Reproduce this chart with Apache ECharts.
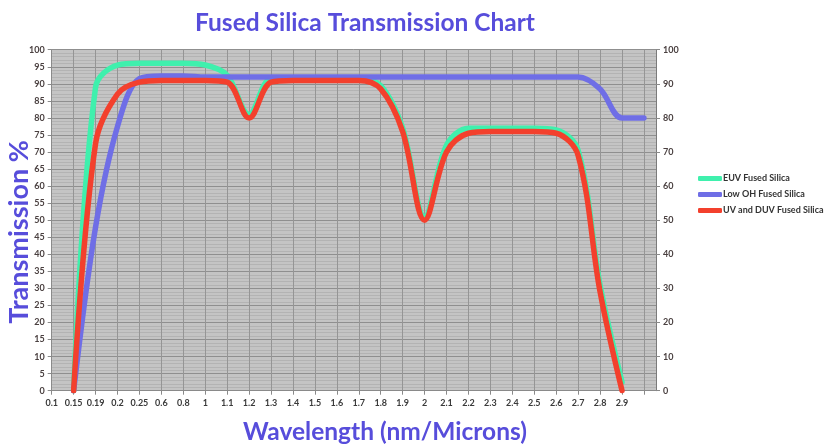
<!DOCTYPE html>
<html>
<head>
<meta charset="utf-8">
<script src="https://cdn.jsdelivr.net/npm/echarts@6/dist/echarts.min.js"></script>
<style>
  html, body { margin: 0; padding: 0; background: #fff; }
  #chart { width: 824px; height: 446px; }
</style>
</head>
<body>
<div id="chart"></div>
<script>
// wavelength categories (last one is an empty slot on the axis)
const categories = ['0.1', '0.15', '0.19', '0.2', '0.25', '0.6', '0.8', '1', '1.1', '1.2', '1.3', '1.4', '1.5', '1.6',
  '1.7', '1.8', '1.9', '2', '2.1', '2.2', '2.3', '2.4', '2.5', '2.6', '2.7', '2.8', '2.9', ''];

const seriesNames = ['EUV Fused Silica', 'Low OH Fused Silica', 'UV and DUV Fused Silica'];

const euv = [null, 0, 89, 95.5, 96, 96, 96, 95.5, 92.5, 81, 91.5, 91.5, 91.5, 91.5, 91.5, 89.5, 77, 51, 72,
  77, 77, 77, 77, 76.5, 70.5, 31, 2.5, null];
const lowOH = [null, 0, 48, 77.5, 91.5, 92.3, 92.3, 92, 92, 92, 92, 92, 92, 92, 92, 92, 92, 92, 92,
  92, 92, 92, 92, 92, 92, 88.5, 80, 80];
const uvDuv = [null, 0, 72.5, 87, 90.5, 91, 91, 91, 90.5, 80, 90.5, 91, 91, 91, 91, 88.5, 76, 50, 70,
  75.5, 76, 76, 76, 75.5, 69, 29, 0, null];

const leftTicks = { min: 0, max: 100, step: 5 };
const rightTicks = { min: 0, max: 100, step: 10 };

const colors = ['#3ff0ad', '#6f6ee6', '#f3402d'];
const titleColor = '#574ddb';
const font = 'Lato';

const chart = echarts.init(document.getElementById('chart'));

function toPairs(vals) {
  return vals.map(function (v, i) { return [i, v]; });
}

let seriesData = [euv, lowOH, uvDuv].map(function (vals, idx) {
  return {
    name: seriesNames[idx],
    type: 'line',
    yAxisIndex: 0,
    data: toPairs(vals),
    smooth: 0.35,
    showSymbol: false,
    connectNulls: false,
    lineStyle: { width: 5.5, color: colors[idx], cap: 'round', join: 'round' },
    itemStyle: { color: colors[idx] },
    z: 3 + idx
  };
});

let option = {
  animation: false,
  backgroundColor: '#ffffff',
  title: [{
    text: 'Fused Silica Transmission Chart',
    left: 360,
    top: 6,
    textAlign: 'center',
    textStyle: { fontFamily: font, fontSize: 24.5, fontWeight: 'bold', color: titleColor }
  }, {
    text: 'Wavelength (nm/Microns)',
    left: 380,
    top: 415,
    textAlign: 'center',
    textStyle: { fontFamily: font, fontSize: 24.5, fontWeight: 'bold', color: titleColor }
  }],
  graphic: [{
    type: 'text',
    x: 19,
    y: 232,
    rotation: Math.PI / 2,
    style: {
      text: 'Transmission %',
      fill: titleColor,
      font: 'bold 27px ' + font,
      textAlign: 'center',
      textVerticalAlign: 'middle'
    }
  }],
  legend: {
    orient: 'vertical',
    left: 693,
    top: 169,
    itemWidth: 24,
    itemHeight: 5,
    itemGap: 7,
    icon: 'roundRect',
    data: seriesNames,
    textStyle: { fontFamily: font, fontSize: 9, fontWeight: 'bold', color: '#333', padding: [0, 0, 0, -4] }
  },
  grid: {
    left: 51.7,
    right: 168,
    top: 49.7,
    bottom: 55.3,
    show: true,
    backgroundColor: '#c4c4c4',
    borderWidth: 0
  },
  xAxis: {
    type: 'value',
    min: 0,
    max: 27.55,
    interval: 1,
    axisLine: { show: true, onZero: false, lineStyle: { color: '#8a8a8a' } },
    axisTick: { show: true, length: 4, lineStyle: { color: '#8a8a8a' } },
    splitLine: { show: true, lineStyle: { color: '#959595', width: 1 } },
    axisLabel: {
      showMaxLabel: false,
      margin: 8,
      fontFamily: font,
      fontSize: 9,
      fontWeight: 'bold',
      color: '#3a3a3a',
      formatter: function (v) {
        return Number.isInteger(v) ? (categories[v] || '') : '';
      }
    }
  },
  yAxis: [{
    type: 'value',
    position: 'left',
    min: leftTicks.min,
    max: leftTicks.max,
    interval: leftTicks.step,
    axisLine: { show: true, lineStyle: { color: '#8a8a8a' } },
    axisTick: { show: true, length: 4, lineStyle: { color: '#8a8a8a' } },
    splitLine: { show: true, lineStyle: { color: '#8f8f8f', width: 1 } },
    minorTick: { show: false, splitNumber: 5 },
    minorSplitLine: { show: true, lineStyle: { color: '#b3b3b3', width: 1 } },
    axisLabel: { margin: 7, fontFamily: font, fontSize: 9, fontWeight: 'bold', color: '#4a4040' }
  }, {
    type: 'value',
    position: 'right',
    min: rightTicks.min,
    max: rightTicks.max,
    interval: rightTicks.step,
    axisLine: { show: true, lineStyle: { color: '#7a7a7a' } },
    axisTick: { show: true, length: 4, lineStyle: { color: '#8a8a8a' } },
    splitLine: { show: false },
    axisLabel: { margin: 7, fontFamily: font, fontSize: 9, fontWeight: 'bold', color: '#4a4040' }
  }],
  series: seriesData
};

chart.setOption(option);
</script>
</body>
</html>
